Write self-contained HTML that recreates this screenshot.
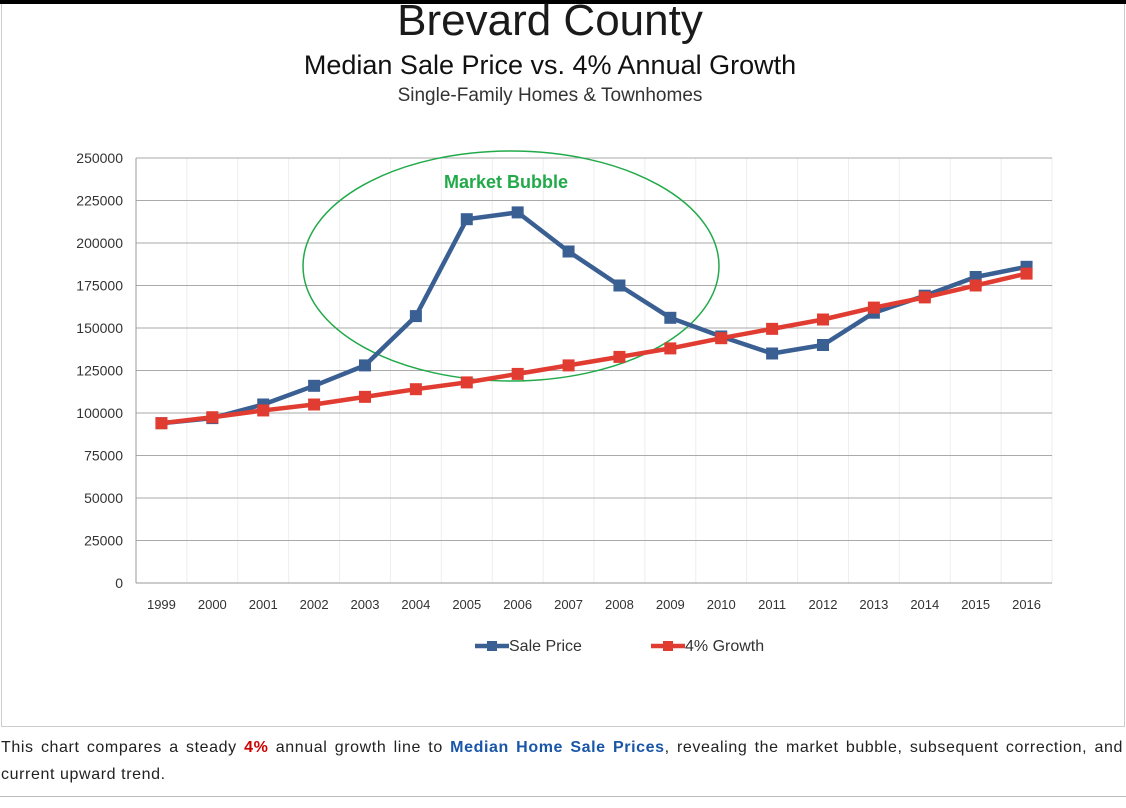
<!DOCTYPE html>
<html><head><meta charset="utf-8"><style>
body{margin:0;width:1126px;height:808px;background:#fff;overflow:hidden;font-family:"Liberation Sans",sans-serif;position:relative}
#topbar{position:absolute;left:0;top:0;width:1126px;height:4px;background:#000}
#frame{position:absolute;left:1px;top:4px;width:1122px;height:722px;border:1px solid #ccc;border-top:none}
.t{position:absolute;left:0;width:1100px;text-align:center;color:#111}
#cap{position:absolute;left:1px;top:734px;width:1122px;font-size:16px;letter-spacing:0.6px;color:#222;line-height:27px;text-align:justify}
#hr{position:absolute;left:0;top:796px;width:1126px;height:1px;background:#bbb}
</style></head><body>
<div id="topbar"></div>
<div id="frame"></div>
<div class="t" style="top:-4px;font-size:44px;color:#1a1a1a">Brevard County</div>
<div class="t" style="top:50px;font-size:27px">Median Sale Price vs. 4% Annual Growth</div>
<div class="t" style="top:85px;font-size:19px;color:#333">Single-Family Homes &amp; Townhomes</div>
<svg id="chart" width="1126" height="808" style="position:absolute;left:0;top:0"></svg>
<div id="cap">This chart compares a steady <b style="color:#c00">4%</b> annual growth line to <b style="color:#1a56a8">Median Home Sale Prices</b>, revealing the market bubble, subsequent correction, and current upward trend.</div>
<div id="hr"></div>
<script>
const years=["1999","2000","2001","2002","2003","2004","2005","2006","2007","2008","2009","2010","2011","2012","2013","2014","2015","2016"];
const salePrice=[94000,97000,105000,116000,128000,157000,214000,218000,195000,175000,156000,145000,135000,140000,159000,169000,180000,186000];
const growth=[94000,97500,101500,105000,109500,114000,118000,123000,128000,133000,138000,144000,149500,155000,162000,168000,175000,182000];
const yTicks=[0,25000,50000,75000,100000,125000,150000,175000,200000,225000,250000];
const NS="http://www.w3.org/2000/svg";
const svg=document.getElementById('chart');
const X0=136,X1=1052,Y0=583,Y1=158,YMAX=250000;
const bw=(X1-X0)/years.length;
const x=i=>X0+(i+0.5)*bw;
const y=v=>Y0-(v/YMAX)*(Y0-Y1);
function mk(t,a,p){const e=document.createElementNS(NS,t);for(const k in a)e.setAttribute(k,a[k]);(p||svg).appendChild(e);return e;}
for(let i=0;i<=years.length;i++){const l=mk('line',{x1:X0+i*bw,x2:X0+i*bw,y1:Y1,y2:Y0,stroke:'#eee'});

}
yTicks.forEach(v=>{const l=mk('line',{x1:X0,x2:X1,y1:y(v),y2:y(v),stroke:v==0?'#999':'#aaa'});


const t=mk('text',{x:X0-13,y:y(v)+5,'text-anchor':'end','font-size':14,fill:'#333'});t.textContent=v;

});
mk('line',{x1:X0,x2:X0,y1:Y1,y2:Y0,stroke:'#999'});
years.forEach((yr,i)=>{const t=mk('text',{x:x(i),y:609,'text-anchor':'middle','font-size':13,fill:'#333'});t.textContent=yr;

});
const el=mk('ellipse',{cx:511,cy:266,rx:208,ry:115,fill:'none',stroke:'#22aa4a','stroke-width':1.5});


const mb=mk('text',{x:506,y:188,'text-anchor':'middle','font-size':18,'font-weight':'bold',fill:'#22aa4a'});mb.textContent='Market Bubble';


function series(vals,color,name){
const g=mk('g',{});


mk('polyline',{points:vals.map((v,i)=>x(i)+','+y(v)).join(' '),fill:'none',stroke:color,'stroke-width':4.5,'stroke-linejoin':'round'},g);
vals.forEach((v,i)=>{const r=mk('rect',{x:x(i)-6,y:y(v)-6,width:12,height:12,fill:color},g);

});}
series(salePrice,'#3a5f93','sale-price');
series(growth,'#e03c31','growth');
function legend(lx,color,label,name){const g=mk('g',{});


mk('line',{x1:lx,x2:lx+34,y1:646,y2:646,stroke:color,'stroke-width':4.5},g);
mk('rect',{x:lx+12,y:641,width:10,height:10,fill:color},g);
const t=mk('text',{x:lx+34,y:651,'font-size':16,fill:'#333'},g);t.textContent=label;}
legend(475,'#3a5f93','Sale Price','legend-sale-price');
legend(651,'#e03c31','4% Growth','legend-growth');
</script>
</body></html>
